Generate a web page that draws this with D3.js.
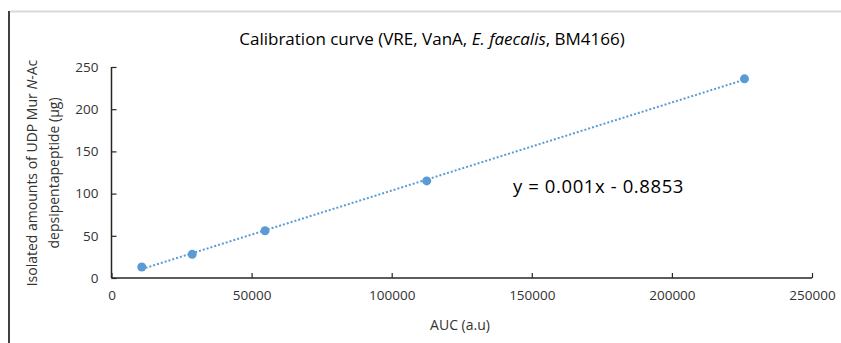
<!DOCTYPE html>
<html>
<head>
<meta charset="utf-8">
<script src="https://cdn.jsdelivr.net/npm/d3@7"></script>
<style>
  html, body { margin: 0; padding: 0; background: #fff; }
  svg { display: block; font-family: "Open Sans", "Noto Sans", sans-serif; }
</style>
</head>
<body>
<svg id="chart" width="841" height="343"></svg>
<script>
// Calibration measurements: peak area (AUC) vs isolated amount (µg)
const aucValues = [10800, 28800, 54800, 112500, 225900];
const amounts = [13, 28, 56, 115, 236];
const xTicks = [0, 50000, 100000, 150000, 200000, 250000];
const yTicks = [0, 50, 100, 150, 200, 250];
const equationText = "y = 0.001x - 0.8853";

const svg = d3.select("#chart");
const W = 841, H = 343;
const margin = { left: 111.5, right: W - 812, top: 67, bottom: H - 278 };

const x = d3.scaleLinear().domain([0, 250000]).range([margin.left, W - margin.right]);
const y = d3.scaleLinear().domain([0, 250]).range([H - margin.bottom, margin.top]);

// outer frame (top rule and left edge)
svg.append("line").attr("x1", 10).attr("x2", W).attr("y1", 11.5).attr("y2", 11.5)
  .attr("stroke", "#d9d9d9").attr("stroke-width", 2);
svg.append("line").attr("x1", 9).attr("x2", 9).attr("y1", 11).attr("y2", H)
  .attr("stroke", "#000").attr("stroke-width", 1.5);

// title
const title = svg.append("text").attr("x", 432).attr("y", 45)
  .attr("text-anchor", "middle").attr("font-size", 17).attr("fill", "#000");
title.append("tspan").text("Calibration curve (VRE, VanA, ");
title.append("tspan").attr("font-style", "italic").text("E. faecalis");
title.append("tspan").text(", BM4166)");

// axes
const xAxis = d3.axisBottom(x).tickValues(xTicks).tickSize(-5).tickPadding(12)
  .tickFormat(d3.format("d"));
const yAxis = d3.axisLeft(y).tickValues(yTicks).tickSize(-5).tickPadding(13)
  .tickFormat(d3.format("d"));

const gx = svg.append("g").attr("transform", `translate(0,${y(0)})`).call(xAxis);
const gy = svg.append("g").attr("transform", `translate(${x(0)},0)`).call(yAxis);
[gx, gy].forEach(g => {
  g.select(".domain").attr("stroke", "#262626").attr("stroke-width", 1.5);
  g.selectAll(".tick line").attr("stroke", "#262626").attr("stroke-width", 1.2);
  g.selectAll(".tick text").attr("fill", "#333").attr("font-size", 13.5)
    .attr("font-family", "'Open Sans', sans-serif");
});
gx.select(".domain").attr("d", `M${x(0)},0H${x(250000)}`);
gy.select(".domain").attr("d", `M0,${y(0)}V${y(250)}`);

// axis titles
svg.append("text").attr("x", 460).attr("y", 330).attr("text-anchor", "middle")
  .attr("font-size", 14).attr("fill", "#333").text("AUC (a.u)");

const yt = svg.append("text").attr("transform", "translate(37,173) rotate(-90)")
  .attr("text-anchor", "middle").attr("font-size", 14).attr("fill", "#333");
yt.append("tspan").attr("x", 0).attr("dy", 0).text("Isolated amounts of UDP Mur ");
yt.append("tspan").attr("font-style", "italic").text("N");
yt.append("tspan").text("-Ac");
svg.append("text").attr("transform", "translate(59,173) rotate(-90)")
  .attr("text-anchor", "middle").attr("font-size", 14).attr("fill", "#333")
  .text("depsipentapeptide (μg)");

// linear trendline (least squares) over the measured range
const n = aucValues.length;
const mx = d3.mean(aucValues), my = d3.mean(amounts);
let sxy = 0, sxx = 0;
for (let i = 0; i < n; i++) {
  sxy += (aucValues[i] - mx) * (amounts[i] - my);
  sxx += (aucValues[i] - mx) ** 2;
}
const slope = sxy / sxx, intercept = my - slope * mx;
const x0 = d3.min(aucValues), x1 = d3.max(aucValues);
svg.append("line")
  .attr("x1", x(x0)).attr("y1", y(slope * x0 + intercept))
  .attr("x2", x(x1)).attr("y2", y(slope * x1 + intercept))
  .attr("stroke", "#5b9bd5").attr("stroke-width", 2).attr("stroke-dasharray", "2,2");

// data points
svg.append("g").selectAll("circle").data(aucValues).join("circle")
  .attr("cx", d => x(d)).attr("cy", (d, i) => y(amounts[i]))
  .attr("r", 4.5).attr("fill", "#5b9bd5");

// equation label
svg.append("text").attr("x", 513).attr("y", 193).attr("font-size", 18.5)
  .attr("letter-spacing", 0.6).attr("fill", "#000").text(equationText);
</script>
</body>
</html>
